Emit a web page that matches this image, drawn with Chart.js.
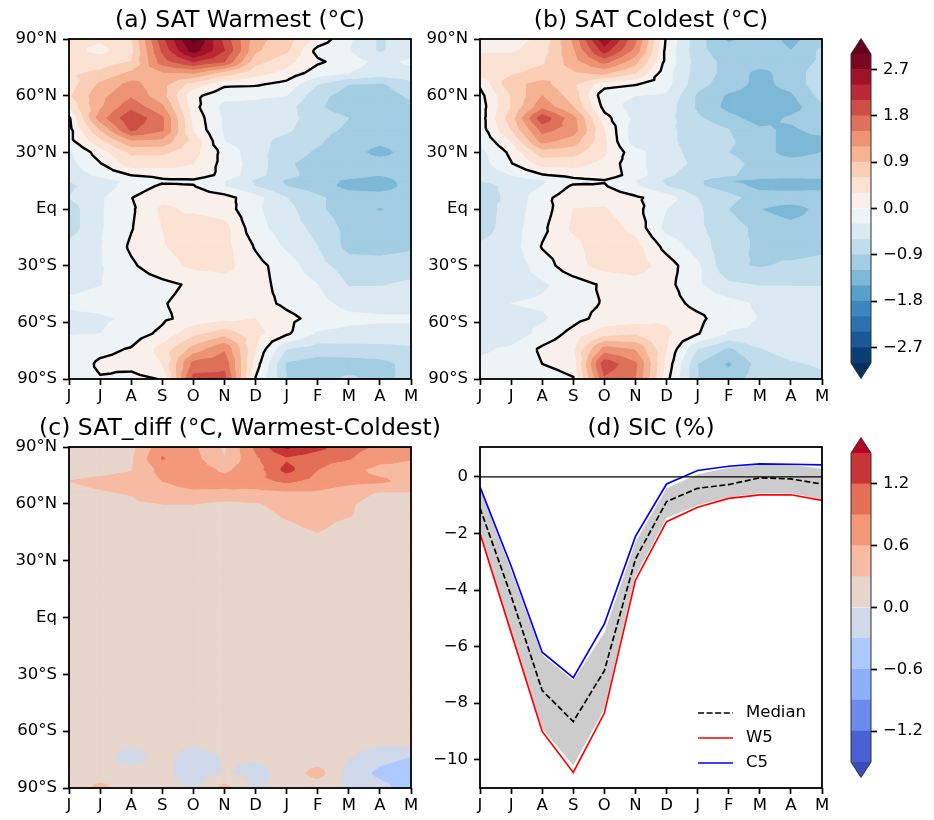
<!DOCTYPE html>
<html>
<head>
<meta charset="utf-8">
<title>SAT and SIC</title>
<script src="https://cdn.jsdelivr.net/npm/chart.js@4"></script>
<style>
html, body { margin: 0; padding: 0; background: #fff; }
canvas { position: absolute; }
</style>
</head>
<body>
<script>
var months = ["J", "J", "A", "S", "O", "N", "D", "J", "F", "M", "A", "M"];
var latTicks = [-90, -60, -30, 0, 30, 60, 90];
var lats = [90, 84, 78, 72, 66, 60, 54, 48, 42, 36, 30, 24, 18, 15, 12, 6, 0, -10, -20, -30, -40, -50, -58, -66, -74, -82, -90];

var satWarmest = [
	[0.4, 0.35, 0.55, 2.0, 3.1, 2.0, 1.0, 0.75, 0.2, -0.25, -0.65, -0.4],
	[0.4, 0.2, 0.5, 1.85, 2.85, 2.1, 0.95, 0.65, -0.1, -0.3, -0.65, -0.4],
	[0.45, 0.45, 0.6, 1.65, 2.1, 1.8, 0.7, 0.4, 0.05, -0.15, -0.4, -0.25],
	[0.55, 0.65, 0.95, 1.15, 1.2, 0.75, 0.4, 0.2, -0.15, -0.3, -0.45, -0.4],
	[0.45, 0.95, 1.3, 1.0, 0.45, 0.06, 0.04, -0.1, -0.6, -0.9, -0.95, -0.7],
	[0.55, 1.1, 1.45, 1.0, 0.08, -0.2, -0.25, -0.3, -0.8, -1.05, -1.05, -0.85],
	[0.35, 1.15, 1.7, 1.25, 0.1, -0.4, -0.4, -0.5, -0.85, -1.1, -1.05, -1.0],
	[-0.05, 1.35, 2.05, 1.55, 0.2, -0.35, -0.45, -0.5, -0.75, -0.9, -1.05, -1.05],
	[-0.1, 0.9, 1.85, 1.55, 0.25, -0.35, -0.45, -0.55, -0.8, -0.95, -1.1, -1.1],
	[-0.1, 0.5, 1.15, 1.1, 0.5, -0.3, -0.5, -0.7, -0.85, -1.1, -1.15, -1.1],
	[-0.35, 0.15, 0.65, 0.65, 0.4, -0.1, -0.5, -0.75, -0.95, -1.1, -1.28, -1.1],
	[-0.4, -0.02, 0.45, 0.4, 0.3, -0.1, -0.45, -0.85, -1.05, -1.05, -1.1, -1.1],
	[-0.45, -0.25, 0.01, 0.1, 0.2, -0.1, -0.5, -0.8, -1.05, -1.1, -1.2, -1.1],
	[-0.6, -0.4, -0.25, -0.05, -0.05, -0.3, -0.65, -0.95, -1.1, -1.25, -1.3, -1.1],
	[-0.65, -0.5, -0.15, 0.05, 0.02, -0.3, -0.6, -0.9, -1.05, -1.3, -1.35, -1.1],
	[-0.6, -0.35, -0.01, 0.2, 0.2, 0.12, -0.2, -0.6, -0.85, -1.05, -1.05, -1.05],
	[-0.75, -0.34, -0.05, 0.35, 0.25, 0.15, -0.25, -0.5, -0.85, -1.05, -1.22, -1.05],
	[-0.75, -0.34, -0.02, 0.3, 0.45, 0.4, -0.2, -0.45, -0.7, -1.0, -1.05, -1.05],
	[-0.5, -0.32, 0.05, 0.28, 0.4, 0.4, -0.03, -0.35, -0.6, -1.0, -1.0, -0.95],
	[-0.45, -0.33, -0.05, 0.2, 0.35, 0.4, 0.1, -0.15, -0.5, -0.75, -0.8, -0.75],
	[-0.38, -0.31, -0.2, -0.08, 0.05, 0.15, 0.12, -0.12, -0.3, -0.62, -0.62, -0.55],
	[-0.25, -0.2, -0.1, -0.02, 0.1, 0.12, 0.12, -0.06, -0.2, -0.4, -0.45, -0.45],
	[-0.38, -0.35, -0.25, -0.05, 0.1, 0.2, 0.3, 0.08, -0.1, -0.22, -0.25, -0.25],
	[-0.32, -0.3, -0.15, 0.07, 0.5, 0.75, 0.4, 0.05, -0.35, -0.4, -0.42, -0.42],
	[-0.2, -0.08, 0.02, 0.4, 1.0, 1.45, 0.3, -0.6, -0.75, -0.72, -0.7, -0.65],
	[-0.2, 0.05, 0.1, 0.3, 1.6, 1.7, 0.15, -0.95, -1.05, -1.05, -1.0, -0.8],
	[-0.15, -0.02, -0.1, 0.02, 1.9, 1.9, -0.02, -0.9, -1.0, -0.85, -1.0, -0.8]
];

var satColdest = [
	[0.15, 0.2, 0.35, 1.25, 2.65, 1.55, -0.05, -0.8, -1.25, -1.0, -1.3, -1.05],
	[0.25, 0.25, 0.45, 1.15, 2.25, 1.4, -0.1, -0.8, -1.1, -1.0, -1.2, -0.85],
	[0.4, 0.45, 0.55, 1.05, 1.6, 1.0, -0.1, -0.75, -1.0, -1.05, -1.05, -0.85],
	[0.4, 0.55, 0.7, 0.85, 0.95, 0.6, -0.2, -0.75, -1.0, -1.3, -1.05, -0.75],
	[0.05, 0.8, 1.0, 0.65, 0.12, 0.02, -0.2, -0.8, -1.05, -1.3, -1.1, -0.7],
	[-0.1, 0.6, 1.2, 0.75, -0.2, -0.3, -0.35, -0.95, -1.25, -1.35, -1.25, -0.8],
	[-0.15, 0.6, 1.4, 0.9, -0.1, -0.45, -0.45, -0.95, -1.3, -1.45, -1.35, -0.95],
	[-0.15, 0.75, 2.0, 1.3, 0.12, -0.4, -0.5, -0.85, -1.1, -1.35, -1.15, -1.0],
	[-0.15, 0.6, 1.6, 1.35, 0.3, -0.5, -0.55, -0.7, -0.9, -1.15, -1.25, -1.1],
	[-0.25, 0.3, 1.3, 1.05, 0.35, -0.5, -0.55, -0.7, -0.85, -1.1, -1.3, -1.3],
	[-0.4, 0.07, 0.75, 0.7, 0.35, -0.2, -0.5, -0.7, -0.9, -1.05, -1.35, -1.2],
	[-0.45, -0.02, 0.4, 0.4, 0.2, -0.2, -0.5, -0.65, -0.8, -1.0, -1.05, -1.05],
	[-0.5, -0.3, -0.02, 0.1, 0.2, -0.15, -0.55, -0.75, -0.85, -1.05, -1.05, -1.05],
	[-0.6, -0.5, -0.35, -0.1, -0.02, -0.3, -0.65, -0.85, -1.2, -1.3, -1.35, -1.3],
	[-0.75, -0.5, -0.3, 0.05, 0.03, -0.25, -0.6, -0.85, -1.05, -1.3, -1.35, -1.3],
	[-0.7, -0.55, -0.1, 0.2, 0.2, 0.05, -0.15, -0.6, -0.8, -1.05, -1.0, -1.05],
	[-0.8, -0.45, -0.15, 0.3, 0.32, 0.1, -0.3, -0.55, -0.9, -1.2, -1.35, -1.1],
	[-0.75, -0.45, -0.07, 0.35, 0.45, 0.2, -0.4, -0.55, -0.75, -1.0, -1.1, -1.05],
	[-0.55, -0.45, 0.02, 0.2, 0.5, 0.4, -0.1, -0.45, -0.8, -0.95, -1.05, -1.0],
	[-0.5, -0.5, -0.15, 0.2, 0.4, 0.45, 0.15, -0.25, -0.85, -0.93, -0.85, -0.78],
	[-0.45, -0.45, -0.35, -0.15, 0.05, 0.15, 0.1, -0.25, -0.55, -0.62, -0.62, -0.62],
	[-0.4, -0.3, -0.25, -0.1, 0.02, 0.12, 0.15, -0.1, -0.2, -0.35, -0.4, -0.45],
	[-0.5, -0.4, -0.35, -0.1, 0.1, 0.15, 0.25, 0.08, -0.2, -0.31, -0.33, -0.33],
	[-0.6, -0.5, -0.2, 0.1, 0.45, 0.55, 0.35, 0.02, -0.33, -0.33, -0.38, -0.5],
	[-0.35, -0.25, 0.05, 0.25, 1.3, 1.15, 0.3, -0.6, -0.95, -0.62, -0.45, -0.4],
	[-0.25, -0.2, 0.0, 0.12, 2.0, 1.55, 0.2, -0.9, -1.25, -0.78, -0.65, -0.55],
	[-0.25, -0.2, -0.15, -0.02, 1.75, 1.5, 0.1, -0.9, -1.05, -0.75, -0.8, -0.7]
];

var satDiff = [
	[0.2, 0.2, 0.2, 0.8, 0.65, 0.25, 0.95, 1.55, 1.3, 1.0, 0.85, 0.8],
	[0.2, 0.2, 0.25, 0.92, 0.7, 0.3, 0.85, 1.15, 1.0, 0.92, 0.7, 0.62],
	[0.2, 0.22, 0.28, 0.7, 0.75, 0.55, 0.75, 1.3, 0.9, 0.7, 0.5, 0.5],
	[0.3, 0.35, 0.4, 0.6, 0.72, 0.68, 0.8, 0.95, 0.8, 0.7, 0.65, 0.5],
	[0.25, 0.28, 0.32, 0.5, 0.55, 0.55, 0.5, 0.55, 0.55, 0.4, 0.28, 0.28],
	[0.2, 0.2, 0.25, 0.3, 0.3, 0.22, 0.27, 0.4, 0.42, 0.33, 0.2, 0.2],
	[0.15, 0.15, 0.15, 0.15, 0.15, 0.15, 0.2, 0.33, 0.4, 0.32, 0.15, 0.15],
	[0.12, 0.12, 0.12, 0.12, 0.12, 0.15, 0.18, 0.25, 0.35, 0.2, 0.12, 0.12],
	[0.1, 0.1, 0.1, 0.1, 0.1, 0.1, 0.12, 0.15, 0.25, 0.12, 0.1, 0.1],
	[0.1, 0.1, 0.1, 0.1, 0.1, 0.1, 0.1, 0.1, 0.12, 0.1, 0.1, 0.1],
	[0.1, 0.1, 0.1, 0.1, 0.1, 0.1, 0.1, 0.1, 0.1, 0.1, 0.1, 0.1],
	[0.1, 0.1, 0.1, 0.1, 0.1, 0.1, 0.1, 0.1, 0.1, 0.1, 0.1, 0.1],
	[0.1, 0.1, 0.1, 0.1, 0.1, 0.1, 0.1, 0.1, 0.1, 0.1, 0.1, 0.1],
	[0.1, 0.1, 0.1, 0.1, 0.1, 0.1, 0.1, 0.1, 0.1, 0.1, 0.1, 0.1],
	[0.1, 0.1, 0.1, 0.1, 0.1, 0.1, 0.1, 0.1, 0.1, 0.1, 0.1, 0.1],
	[0.1, 0.1, 0.1, 0.1, 0.1, 0.1, 0.1, 0.1, 0.1, 0.1, 0.1, 0.1],
	[0.1, 0.1, 0.1, 0.1, 0.1, 0.1, 0.1, 0.1, 0.1, 0.1, 0.1, 0.1],
	[0.1, 0.1, 0.1, 0.1, 0.1, 0.1, 0.1, 0.1, 0.1, 0.1, 0.1, 0.1],
	[0.1, 0.1, 0.1, 0.1, 0.1, 0.1, 0.1, 0.1, 0.1, 0.1, 0.1, 0.1],
	[0.1, 0.1, 0.1, 0.1, 0.1, 0.1, 0.1, 0.1, 0.1, 0.1, 0.1, 0.1],
	[0.1, 0.1, 0.1, 0.1, 0.1, 0.1, 0.1, 0.1, 0.1, 0.1, 0.1, 0.1],
	[0.1, 0.1, 0.1, 0.1, 0.1, 0.1, 0.1, 0.1, 0.1, 0.1, 0.1, 0.1],
	[0.1, 0.1, 0.1, 0.1, 0.1, 0.1, 0.1, 0.1, 0.1, 0.1, 0.1, 0.1],
	[0.1, 0.1, 0.03, 0.1, 0.03, 0.1, 0.1, 0.1, 0.1, 0.1, 0.05, 0.08],
	[0.1, 0.1, -0.12, 0.1, -0.15, 0.02, 0.03, 0.1, 0.1, 0.01, -0.2, -0.32],
	[-0.02, 0.1, 0.1, 0.1, -0.2, 0.02, -0.1, 0.1, 0.42, -0.1, -0.38, -0.5],
	[0.1, 0.4, 0.1, 0.1, -0.02, 0.4, -0.05, 0.1, 0.1, -0.08, -0.2, -0.45]
];

var sicTicks = [-10, -8, -6, -4, -2, 0];
var sicZero = [0, 0, 0, 0, 0, 0, 0, 0, 0, 0, 0, 0];
var sicMedian = [-1.1, -4.2, -7.55, -8.65, -6.85, -2.9, -0.87, -0.4, -0.27, -0.03, -0.07, -0.25];
var sicW5 = [-2.0, -5.5, -9.0, -10.45, -8.35, -3.65, -1.58, -1.07, -0.76, -0.63, -0.63, -0.83];
var sicC5 = [-0.35, -3.15, -6.2, -7.1, -5.2, -2.1, -0.25, 0.23, 0.38, 0.46, 0.45, 0.43];
var sicBandLow = [-2.0, -5.6, -8.9, -10.2, -8.2, -3.5, -1.45, -1.0, -0.72, -0.58, -0.58, -0.8];
var sicBandHigh = [-0.4, -3.3, -6.3, -7.2, -5.5, -2.3, -0.4, 0.1, 0.33, 0.42, 0.42, 0.3];

var satLevels = [-3, -2.7, -2.4, -2.1, -1.8, -1.5, -1.2, -0.9, -0.6, -0.3, 0, 0.3, 0.6, 0.9, 1.2, 1.5, 1.8, 2.1, 2.4, 2.7, 3];
var satCbarTicks = [-2.7, -1.8, -0.9, 0, 0.9, 1.8, 2.7];
var diffLevels = [-1.5, -1.2, -0.9, -0.6, -0.3, 0, 0.3, 0.6, 0.9, 1.2, 1.5];
var diffCbarTicks = [-1.2, -0.6, 0, 0.6, 1.2];

var rdbu = ["#053061", "#2166ac", "#4393c3", "#92c5de", "#d1e5f0", "#f7f7f7", "#fddbc7", "#f4a582", "#d6604d", "#b2182b", "#67001f"];
var coolwarm = ["#3b4cc0", "#4a60d4", "#6a8cef", "#8daffc", "#aec9fd", "#d0d9e9", "#e8d5cc", "#f7bba3", "#f4987a", "#e46e56", "#c93535", "#b40426"];

var FONT = "'DejaVu Sans'";
var TICK_SIZE = 16.5;
var TITLE_SIZE = 23.5;

Chart.defaults.font.family = FONT;
Chart.defaults.color = "#000";
Chart.defaults.animation = false;

function hexToRgb(h) {
	return [parseInt(h.substr(1, 2), 16), parseInt(h.substr(3, 2), 16), parseInt(h.substr(5, 2), 16)];
}

// same colours contourf gives: colormap read at the middle of each layer
function rdbuColor(t) {
	var p = Math.min(Math.max(t, 0), 1) * 10;
	var i = Math.min(Math.floor(p), 9);
	var a = hexToRgb(rdbu[i]), b = hexToRgb(rdbu[i + 1]);
	var f = p - i;
	return "rgb(" + Math.round(a[0] + (b[0] - a[0]) * f) + "," + Math.round(a[1] + (b[1] - a[1]) * f) + "," + Math.round(a[2] + (b[2] - a[2]) * f) + ")";
}

var satColors = [rdbu[0]];
for (var k = 0; k < satLevels.length - 1; k++) {
	satColors.push(rdbuColor(((satLevels[k] + satLevels[k + 1]) / 2 + 3) / 6));
}
satColors.push(rdbu[10]);

function fmtTick(v) {
	return String(v).replace("-", "\u2212");
}

function fmtCbar(v) {
	return v.toFixed(1).replace("-", "\u2212");
}

function latLabel(v) {
	if (v === 0) return "Eq";
	return Math.abs(v) + (v > 0 ? "\u00b0N" : "\u00b0S");
}

function gridPoints(rows) {
	var pts = [];
	for (var r = 0; r < lats.length; r++) {
		for (var c = 0; c < months.length; c++) {
			pts.push({ x: c, y: lats[r], v: rows[r][c] });
		}
	}
	return pts;
}

// keep the part of a triangle/polygon with v >= level
function clipAbove(poly, level) {
	var out = [];
	for (var i = 0; i < poly.length; i++) {
		var p = poly[i], q = poly[(i + 1) % poly.length];
		if (p.v >= level) out.push(p);
		if ((p.v >= level) !== (q.v >= level)) {
			var t = (level - p.v) / (q.v - p.v);
			out.push({ x: p.x + (q.x - p.x) * t, y: p.y + (q.y - p.y) * t, v: level });
		}
	}
	return out;
}

function cellTriangles(rows) {
	var tris = [];
	for (var r = 0; r < lats.length - 1; r++) {
		for (var c = 0; c < months.length - 1; c++) {
			var a = { x: c, y: lats[r], v: rows[r][c] };
			var b = { x: c + 1, y: lats[r], v: rows[r][c + 1] };
			var d = { x: c + 1, y: lats[r + 1], v: rows[r + 1][c + 1] };
			var e = { x: c, y: lats[r + 1], v: rows[r + 1][c] };
			var m = { x: c + 0.5, y: (lats[r] + lats[r + 1]) / 2, v: (a.v + b.v + d.v + e.v) / 4 };
			tris.push([a, b, m], [b, d, m], [d, e, m], [e, a, m]);
		}
	}
	return tris;
}

function contourPlugin(rows, levels, colors, zeroLine) {
	var tris = cellTriangles(rows);
	return {
		id: "contourBands",
		beforeDatasetsDraw: function(chart) {
			var ctx = chart.ctx, xs = chart.scales.x, ys = chart.scales.y, area = chart.chartArea;
			ctx.save();
			ctx.beginPath();
			ctx.rect(area.left, area.top, area.right - area.left, area.bottom - area.top);
			ctx.clip();
			ctx.fillStyle = colors[0];
			ctx.fillRect(area.left, area.top, area.right - area.left, area.bottom - area.top);
			for (var k = 0; k < levels.length; k++) {
				ctx.fillStyle = colors[k + 1];
				ctx.strokeStyle = colors[k + 1];
				ctx.lineWidth = 1;
				ctx.beginPath();
				for (var t = 0; t < tris.length; t++) {
					var poly = clipAbove(tris[t], levels[k]);
					if (poly.length < 3) continue;
					ctx.moveTo(xs.getPixelForValue(poly[0].x), ys.getPixelForValue(poly[0].y));
					for (var i = 1; i < poly.length; i++) {
						ctx.lineTo(xs.getPixelForValue(poly[i].x), ys.getPixelForValue(poly[i].y));
					}
					ctx.closePath();
				}
				ctx.fill();
				ctx.stroke();
			}
			if (zeroLine) {
				ctx.strokeStyle = "#000";
				ctx.lineWidth = 2.4;
				ctx.lineCap = "round";
				ctx.beginPath();
				for (var n = 0; n < tris.length; n++) {
					var seg = [], tri = tris[n];
					for (var j = 0; j < 3; j++) {
						var p = tri[j], q = tri[(j + 1) % 3];
						if ((p.v >= 0) !== (q.v >= 0)) {
							var f = -p.v / (q.v - p.v);
							seg.push({ x: p.x + (q.x - p.x) * f, y: p.y + (q.y - p.y) * f });
						}
					}
					if (seg.length === 2) {
						ctx.moveTo(xs.getPixelForValue(seg[0].x), ys.getPixelForValue(seg[0].y));
						ctx.lineTo(xs.getPixelForValue(seg[1].x), ys.getPixelForValue(seg[1].y));
					}
				}
				ctx.stroke();
			}
			ctx.restore();
		}
	};
}

var framePlugin = {
	id: "frame",
	afterDraw: function(chart) {
		var ctx = chart.ctx, a = chart.chartArea;
		ctx.save();
		ctx.strokeStyle = "#000";
		ctx.lineWidth = 1.8;
		ctx.strokeRect(a.left, a.top, a.right - a.left, a.bottom - a.top);
		ctx.restore();
	}
};

function makeCanvas(left, top, w, h) {
	var c = document.createElement("canvas");
	c.width = w;
	c.height = h;
	c.style.left = left + "px";
	c.style.top = top + "px";
	c.style.width = w + "px";
	c.style.height = h + "px";
	document.body.appendChild(c);
	return c;
}

function xAxis() {
	return {
		type: "linear",
		min: 0,
		max: months.length - 1,
		afterBuildTicks: function(s) { s.ticks = months.map(function(m, i) { return { value: i }; }); },
		afterFit: function(s) { s.height = 30; },
		border: { display: false },
		grid: { drawOnChartArea: false, tickLength: 6, tickColor: "#000", tickWidth: 1.7 },
		ticks: {
			autoSkip: false,
			maxRotation: 0,
			padding: 2,
			font: { size: TICK_SIZE },
			callback: function(v) { return months[v]; }
		}
	};
}

function yAxis(min, max, tickVals, fmt) {
	return {
		type: "linear",
		min: min,
		max: max,
		afterBuildTicks: function(s) { s.ticks = tickVals.map(function(v) { return { value: v }; }); },
		afterFit: function(s) { s.width = 56; },
		border: { display: false },
		grid: { drawOnChartArea: false, tickLength: 6, tickColor: "#000", tickWidth: 1.7 },
		ticks: { autoSkip: false, padding: 6, font: { size: TICK_SIZE }, callback: fmt }
	};
}

// empty right-hand axis so the title stays centred over the plot
function spacerAxis() {
	return {
		type: "linear",
		position: "right",
		display: true,
		min: 0,
		max: 1,
		afterFit: function(s) { s.width = 56; },
		border: { display: false },
		grid: { display: false },
		ticks: { display: false }
	};
}

function titleOpts(text) {
	return {
		display: true,
		text: text,
		color: "#000",
		font: { size: TITLE_SIZE, weight: "normal", lineHeight: 1.2 },
		padding: { top: 2, bottom: 34 - 2 - TITLE_SIZE * 1.2 }
	};
}

function mapChart(left, top, w, h, title, rows, levels, colors, zeroLine) {
	var c = makeCanvas(left - 56, top - 34, w + 112, h + 34 + 30);
	return new Chart(c, {
		type: "scatter",
		data: { datasets: [{ label: title, data: gridPoints(rows), pointRadius: 0, showLine: false, yAxisID: "y" }] },
		options: {
			responsive: false,
			devicePixelRatio: 1,
			scales: {
				x: xAxis(),
				y: yAxis(-90, 90, latTicks, latLabel),
				y2: spacerAxis()
			},
			plugins: {
				legend: { display: false },
				tooltip: { enabled: false },
				title: titleOpts(title)
			}
		},
		plugins: [contourPlugin(rows, levels, colors, zeroLine), framePlugin]
	});
}

function colorbar(left, top, w, h, levels, colors, tickVals) {
	var PAD = 20, LEFT = 6;
	var c = makeCanvas(left - LEFT, top - PAD, LEFT + w + 63, h + 2 * PAD);
	var sets = [];
	for (var i = 0; i < levels.length - 1; i++) {
		sets.push({ data: [[levels[i], levels[i + 1]]], backgroundColor: colors[i + 1], grouped: false, barPercentage: 1, categoryPercentage: 1, borderWidth: 0 });
	}
	var outline = {
		id: "cbarOutline",
		afterDraw: function(chart) {
			var ctx = chart.ctx, a = chart.chartArea, ys = chart.scales.y;
			var topY = ys.getPixelForValue(levels[levels.length - 1]), botY = ys.getPixelForValue(levels[0]);
			var mid = (a.left + a.right) / 2;
			ctx.save();
			ctx.fillStyle = colors[colors.length - 1];
			ctx.beginPath();
			ctx.moveTo(a.left, topY);
			ctx.lineTo(mid, topY - 15.5);
			ctx.lineTo(a.right, topY);
			ctx.closePath();
			ctx.fill();
			ctx.fillStyle = colors[0];
			ctx.beginPath();
			ctx.moveTo(a.left, botY);
			ctx.lineTo(mid, botY + 15.5);
			ctx.lineTo(a.right, botY);
			ctx.closePath();
			ctx.fill();
			ctx.strokeStyle = "#333";
			ctx.lineWidth = 1;
			ctx.beginPath();
			ctx.moveTo(a.left, topY);
			ctx.lineTo(mid, topY - 15.5);
			ctx.lineTo(a.right, topY);
			ctx.lineTo(a.right, botY);
			ctx.lineTo(mid, botY + 15.5);
			ctx.lineTo(a.left, botY);
			ctx.closePath();
			ctx.stroke();
			ctx.restore();
		}
	};
	return new Chart(c, {
		type: "bar",
		data: { labels: [""], datasets: sets },
		options: {
			responsive: false,
			devicePixelRatio: 1,
			layout: { padding: { left: LEFT, top: PAD, bottom: PAD } },
			scales: {
				x: { display: false },
				y: {
					position: "right",
					min: levels[0],
					max: levels[levels.length - 1],
					afterBuildTicks: function(s) { s.ticks = tickVals.map(function(v) { return { value: v }; }); },
					afterFit: function(s) { s.width = 63; },
					border: { display: false },
					grid: { drawOnChartArea: false, tickLength: 6, tickColor: "#000", tickWidth: 1.7 },
					ticks: { autoSkip: false, padding: 6, font: { size: TICK_SIZE }, callback: fmtCbar }
				}
			},
			plugins: { legend: { display: false }, tooltip: { enabled: false }, title: { display: false } }
		},
		plugins: [outline]
	});
}

var sicLegendPlugin = {
	id: "sicLegend",
	afterDraw: function(chart) {
		var ctx = chart.ctx, a = chart.chartArea;
		var items = chart.data.datasets.filter(function(d) { return d.inLegend; });
		ctx.save();
		ctx.font = TICK_SIZE + "px " + FONT;
		ctx.textBaseline = "middle";
		ctx.fillStyle = "#000";
		for (var i = 0; i < items.length; i++) {
			var y = a.bottom - 75 + i * 25;
			ctx.strokeStyle = items[i].borderColor;
			ctx.lineWidth = items[i].borderWidth;
			ctx.setLineDash(items[i].borderDash || []);
			ctx.beginPath();
			ctx.moveTo(a.right - 124, y);
			ctx.lineTo(a.right - 89, y);
			ctx.stroke();
			ctx.fillText(items[i].label, a.right - 76, y);
		}
		ctx.restore();
	}
};

function sicChart(left, top, w, h, title) {
	var c = makeCanvas(left - 56, top - 34, w + 112, h + 34 + 30);
	var idx = months.map(function(m, i) { return i; });
	function line(vals) {
		return vals.map(function(v, i) { return { x: idx[i], y: v }; });
	}
	return new Chart(c, {
		type: "scatter",
		data: {
			datasets: [
				{ label: "bandHigh", data: line(sicBandHigh), showLine: true, pointRadius: 0, borderWidth: 0, borderColor: "rgba(0,0,0,0)", backgroundColor: "#cccccc", fill: "+1", yAxisID: "y" },
				{ label: "bandLow", data: line(sicBandLow), showLine: true, pointRadius: 0, borderWidth: 0, borderColor: "rgba(0,0,0,0)", yAxisID: "y" },
				{ label: "zero", data: line(sicZero), showLine: true, pointRadius: 0, borderWidth: 1.2, borderColor: "#000", yAxisID: "y" },
				{ label: "Median", inLegend: true, data: line(sicMedian), showLine: true, pointRadius: 0, borderWidth: 1.7, borderColor: "#000", borderDash: [6, 2.6], yAxisID: "y" },
				{ label: "W5", inLegend: true, data: line(sicW5), showLine: true, pointRadius: 0, borderWidth: 1.7, borderColor: "#ff0000", yAxisID: "y" },
				{ label: "C5", inLegend: true, data: line(sicC5), showLine: true, pointRadius: 0, borderWidth: 1.7, borderColor: "#0000ff", yAxisID: "y" }
			]
		},
		options: {
			responsive: false,
			devicePixelRatio: 1,
			scales: {
				x: xAxis(),
				y: yAxis(-11, 1.06, sicTicks, fmtTick),
				y2: spacerAxis()
			},
			plugins: {
				filler: { drawTime: "beforeDatasetsDraw" },
				legend: { display: false },
				tooltip: { enabled: false },
				title: titleOpts(title)
			}
		},
		plugins: [framePlugin, sicLegendPlugin]
	});
}

mapChart(69, 39, 342, 340, "(a) SAT Warmest (\u00b0C)", satWarmest, satLevels, satColors, true);
mapChart(480, 39, 342, 340, "(b) SAT Coldest (\u00b0C)", satColdest, satLevels, satColors, true);
mapChart(69, 447, 342, 341, "(c) SAT_diff (\u00b0C, Warmest-Coldest)", satDiff, diffLevels, coolwarm, false);
sicChart(480, 447, 342, 341, "(d) SIC (%)");
colorbar(851, 54, 20, 309, satLevels, satColors, satCbarTicks);
colorbar(851, 453, 20, 309, diffLevels, coolwarm, diffCbarTicks);
</script>
</body>
</html>
